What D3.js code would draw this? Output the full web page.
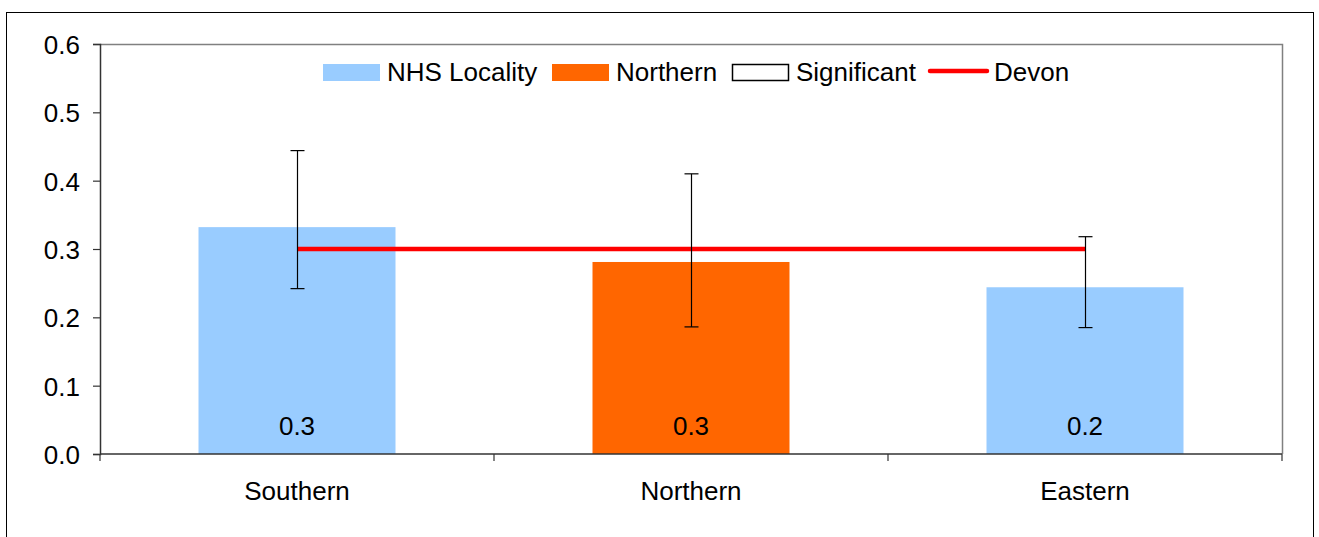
<!DOCTYPE html>
<html><head><meta charset="utf-8">
<script src="https://cdn.jsdelivr.net/npm/d3@7"></script>
<style>body{margin:0;background:#fff}svg{display:block;font-family:"Liberation Sans",Arial,sans-serif}</style>
</head><body>
<svg id="c" width="1319" height="537"></svg>
<script>
const categories = ["Southern", "Northern", "Eastern"];
const values = [0.332, 0.281, 0.244];
const valueLabels = ["0.3", "0.3", "0.2"];
const lower = [0.242, 0.186, 0.185];
const upper = [0.444, 0.410, 0.318];
const devon = [0.30, 0.30, 0.30];
const highlighted = [false, true, false];
const yTicks = [0, 0.1, 0.2, 0.3, 0.4, 0.5, 0.6];
const legendItems = ["NHS Locality", "Northern", "Significant", "Devon"];

const FS = 26;
const svg = d3.select("#c");
const L = 100, R = 1282, T = 44, B = 454;
const x = d3.scaleBand().domain(categories).range([L, R]).paddingInner(0.5).paddingOuter(0.25);
const xb = d3.scaleBand().domain(categories).range([L, R]);
const y = d3.scaleLinear().domain([0, 0.6]).range([B, T]);

// outer border
svg.append("rect").attr("x", 6.5).attr("y", 12.5).attr("width", 1307).attr("height", 540)
  .attr("fill", "none").attr("stroke", "#000").attr("stroke-width", 1);

// plot frame top/right
svg.append("path").attr("d", `M${L},${T+0.5}H${R+0.5}V${B}`).attr("fill", "none").attr("stroke", "#808080").attr("stroke-width", 1.5);

// bars
svg.selectAll("rect.bar").data(categories).join("rect").attr("class", "bar")
  .attr("x", d => x(d)).attr("width", x.bandwidth())
  .attr("y", (d, i) => y(values[i])).attr("height", (d, i) => B - y(values[i]))
  .attr("fill", (d, i) => highlighted[i] ? "#FF6600" : "#99CCFF");

// value labels
svg.selectAll("text.vl").data(categories).join("text").attr("class", "vl")
  .attr("x", d => x(d) + x.bandwidth() / 2).attr("y", 435)
  .attr("text-anchor", "middle").attr("font-size", FS).attr("fill", "#000")
  .text((d, i) => valueLabels[i]);

// devon line
svg.append("path").datum(categories)
  .attr("d", d => d3.line().x(c => x(c) + x.bandwidth() / 2).y((c, i) => y(devon[i]))(d))
  .attr("fill", "none").attr("stroke", "#FF0000").attr("stroke-width", 4.5);

// error bars
const eg = svg.append("g").attr("stroke", "#000").attr("stroke-width", 1.2);
categories.forEach((c, i) => {
  const cx = Math.round(x(c) + x.bandwidth() / 2) + 0.5;
  eg.append("line").attr("x1", cx).attr("x2", cx).attr("y1", y(upper[i])).attr("y2", y(lower[i]));
  eg.append("line").attr("x1", cx - 7).attr("x2", cx + 7).attr("y1", y(upper[i])).attr("y2", y(upper[i]));
  eg.append("line").attr("x1", cx - 7).attr("x2", cx + 7).attr("y1", y(lower[i])).attr("y2", y(lower[i]));
});

// y axis
const ya = svg.append("g").attr("transform", `translate(${L},0)`)
  .call(d3.axisLeft(y).tickValues(yTicks).tickFormat(d3.format(".1f")).tickSize(7).tickPadding(13));
ya.select(".domain").attr("stroke", "#333").attr("stroke-width", 1.5);
ya.selectAll(".tick line").attr("stroke", "#333").attr("stroke-width", 1.2);
ya.selectAll("text").attr("font-size", FS).attr("fill", "#000").attr("dy", "0.36em")
  .attr("font-family", "Liberation Sans, Arial, sans-serif");

// x axis
const xa = svg.append("g").attr("transform", `translate(0,${B})`)
  .call(d3.axisBottom(xb).tickSize(0).tickPadding(0));
xa.select(".domain").attr("stroke", "#333").attr("stroke-width", 1.5).attr("d", `M${L},0H${R}`);
xa.selectAll("text").attr("font-size", FS).attr("fill", "#000").attr("y", 46).attr("dy", 0)
  .attr("font-family", "Liberation Sans, Arial, sans-serif");
const bounds = [L].concat(categories.map(c => xb(c) + xb.bandwidth()));
svg.append("g").selectAll("line").data(bounds).join("line")
  .attr("x1", d => d).attr("x2", d => d).attr("y1", B).attr("y2", B + 7)
  .attr("stroke", "#333").attr("stroke-width", 1.2);

// legend
const lg = svg.append("g");
const lx = [323, 552, 732, 930];
const tx = [387, 616, 796, 994];
const ly = 64, lh = 17, lw = 57;
lg.append("rect").attr("x", lx[0]).attr("y", ly).attr("width", lw).attr("height", lh).attr("fill", "#99CCFF");
lg.append("rect").attr("x", lx[1]).attr("y", ly).attr("width", lw).attr("height", lh).attr("fill", "#FF6600");
lg.append("rect").attr("x", lx[2] + 0.5).attr("y", ly + 0.5).attr("width", lw - 1).attr("height", lh - 1).attr("fill", "#fff").attr("stroke", "#000").attr("stroke-width", 1.5);
lg.append("line").attr("x1", lx[3]).attr("x2", lx[3] + lw).attr("y1", 71).attr("y2", 71)
  .attr("stroke", "#FF0000").attr("stroke-width", 4.5).attr("stroke-linecap", "round");
lg.selectAll("text").data(legendItems).join("text")
  .attr("x", (d, i) => tx[i]).attr("y", 81).attr("font-size", FS).attr("fill", "#000").text(d => d);
</script>
</body></html>
